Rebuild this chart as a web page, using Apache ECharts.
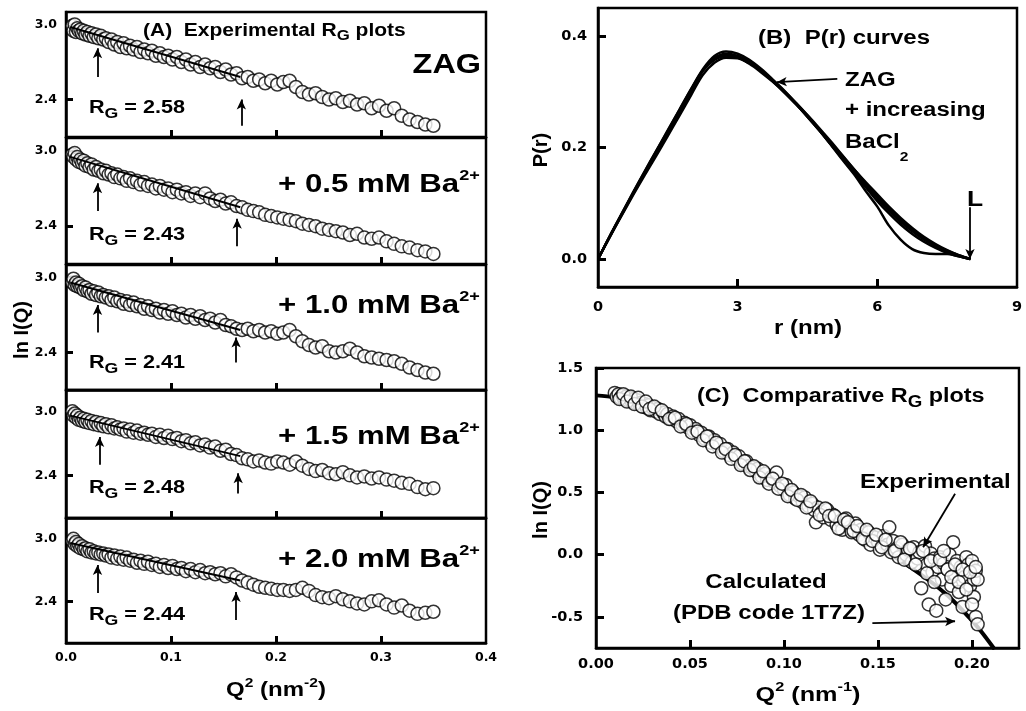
<!DOCTYPE html>
<html>
<head>
<meta charset="utf-8">
<script src="https://cdn.jsdelivr.net/npm/echarts@6.0.0/dist/echarts.min.js"></script>
<style>
  html, body { margin: 0; padding: 0; background: #fff; }
  #chart { width: 1026px; height: 711px; }
</style>
</head>
<body>
<div id="chart"></div>
<script>
// ---- (A) Guinier plots: Q^2 grid shared by the five samples ----
var q2Grid = [
  0.0061, 0.0071, 0.0083, 0.0095, 0.0108, 0.0122, 0.0137, 0.0153, 0.0169, 0.0186,
  0.0204, 0.0224, 0.0243, 0.0264, 0.0286, 0.0308, 0.0331, 0.0355, 0.0380, 0.0406,
  0.0433, 0.0460, 0.0488, 0.0518, 0.0548, 0.0578, 0.0610, 0.0643, 0.0676, 0.0710,
  0.0745, 0.0781, 0.0818, 0.0856, 0.0894, 0.0933, 0.0973, 0.1014, 0.1056, 0.1099,
  0.1142, 0.1187, 0.1232, 0.1278, 0.1325, 0.1373, 0.1421, 0.1471, 0.1521, 0.1572,
  0.1624, 0.1677, 0.1731, 0.1785, 0.1840, 0.1897, 0.1954, 0.2012, 0.2070, 0.2130,
  0.2190, 0.2251, 0.2314, 0.2377, 0.2440, 0.2505, 0.2570, 0.2637, 0.2704, 0.2772,
  0.2841, 0.2911, 0.2981, 0.3053, 0.3125, 0.3198, 0.3272, 0.3347, 0.3422, 0.3499
];
var lnIZag = [
  2.99, 2.95, 3.00, 2.94, 2.97, 2.95, 2.96, 2.93, 2.95, 2.92,
  2.94, 2.91, 2.93, 2.90, 2.92, 2.89, 2.91, 2.88, 2.89, 2.86,
  2.88, 2.84, 2.86, 2.82, 2.85, 2.81, 2.83, 2.80, 2.82, 2.78,
  2.80, 2.77, 2.79, 2.75, 2.77, 2.74, 2.75, 2.72, 2.74, 2.70,
  2.72, 2.68, 2.70, 2.66, 2.68, 2.65, 2.66, 2.62, 2.64, 2.60,
  2.61, 2.57, 2.58, 2.55, 2.56, 2.53, 2.55, 2.52, 2.54, 2.55,
  2.50, 2.46, 2.44, 2.45, 2.42, 2.40, 2.41, 2.38, 2.39, 2.36,
  2.37, 2.33, 2.35, 2.31, 2.33, 2.27, 2.24, 2.22, 2.20, 2.19
];
var lnIBa05 = [
  2.97, 2.95, 2.98, 2.93, 2.95, 2.91, 2.93, 2.90, 2.92, 2.88,
  2.90, 2.87, 2.89, 2.85, 2.87, 2.84, 2.85, 2.82, 2.84, 2.81,
  2.82, 2.79, 2.81, 2.78, 2.79, 2.76, 2.78, 2.75, 2.76, 2.73,
  2.75, 2.72, 2.73, 2.70, 2.72, 2.69, 2.70, 2.67, 2.69, 2.66,
  2.67, 2.64, 2.66, 2.63, 2.66, 2.62, 2.60, 2.61, 2.58, 2.59,
  2.56, 2.55, 2.53, 2.52, 2.51, 2.49, 2.48, 2.47, 2.46, 2.45,
  2.44, 2.42, 2.41, 2.40, 2.38, 2.37, 2.36, 2.35, 2.33, 2.34,
  2.31, 2.30, 2.31, 2.28, 2.26, 2.24, 2.23, 2.21, 2.20, 2.18
];
var lnIBa10 = [
  2.96, 2.99, 2.94, 2.96, 2.93, 2.95, 2.92, 2.93, 2.90, 2.92,
  2.89, 2.90, 2.87, 2.89, 2.86, 2.88, 2.85, 2.86, 2.84, 2.85,
  2.82, 2.84, 2.81, 2.82, 2.79, 2.81, 2.78, 2.80, 2.77, 2.78,
  2.75, 2.77, 2.74, 2.75, 2.72, 2.74, 2.71, 2.73, 2.70, 2.71,
  2.68, 2.70, 2.67, 2.69, 2.66, 2.67, 2.64, 2.66, 2.62, 2.61,
  2.59, 2.58, 2.59, 2.57, 2.58, 2.56, 2.57, 2.55, 2.56, 2.58,
  2.53, 2.49, 2.46, 2.44, 2.45, 2.41, 2.40, 2.41, 2.43, 2.40,
  2.37, 2.36, 2.35, 2.34, 2.33, 2.31, 2.28, 2.26, 2.24, 2.23
];
var lnIBa15 = [
  3.00, 2.96, 2.98, 2.94, 2.96, 2.92, 2.94, 2.91, 2.93, 2.90,
  2.92, 2.89, 2.91, 2.88, 2.90, 2.87, 2.89, 2.86, 2.88, 2.85,
  2.87, 2.84, 2.85, 2.83, 2.84, 2.81, 2.83, 2.80, 2.82, 2.79,
  2.80, 2.78, 2.79, 2.76, 2.78, 2.75, 2.77, 2.74, 2.75, 2.72,
  2.73, 2.70, 2.71, 2.68, 2.69, 2.66, 2.67, 2.63, 2.64, 2.60,
  2.59, 2.56, 2.55, 2.53, 2.54, 2.52, 2.51, 2.53, 2.52, 2.50,
  2.53, 2.49, 2.46, 2.44, 2.45, 2.42, 2.41, 2.43, 2.40, 2.38,
  2.39, 2.37, 2.38, 2.36, 2.35, 2.33, 2.32, 2.29, 2.27, 2.28
];
var lnIBa20 = [
  2.98, 3.00, 2.95, 2.97, 2.93, 2.95, 2.91, 2.93, 2.90, 2.91,
  2.88, 2.90, 2.87, 2.88, 2.86, 2.87, 2.85, 2.86, 2.84, 2.85,
  2.82, 2.84, 2.81, 2.83, 2.80, 2.82, 2.79, 2.80, 2.77, 2.79,
  2.76, 2.78, 2.75, 2.76, 2.73, 2.75, 2.72, 2.74, 2.71, 2.72,
  2.69, 2.71, 2.68, 2.70, 2.67, 2.68, 2.66, 2.67, 2.64, 2.66,
  2.63, 2.60, 2.58, 2.56, 2.54, 2.53, 2.52, 2.51, 2.51, 2.50,
  2.51, 2.53, 2.50, 2.46, 2.44, 2.43, 2.45, 2.42, 2.40, 2.38,
  2.37, 2.40, 2.41, 2.37, 2.34, 2.36, 2.31, 2.28, 2.29, 2.30
];
var panelLnI = [lnIZag, lnIBa05, lnIBa10, lnIBa15, lnIBa20];
var sampleNames = ['ZAG', '+ 0.5 mM Ba', '+ 1.0 mM Ba', '+ 1.5 mM Ba', '+ 2.0 mM Ba'];
var rgValues = ['2.58', '2.43', '2.41', '2.48', '2.44'];
// Guinier fit lines [start, end]
var fitLines = [
  [[0.004, 2.98], [0.166, 2.58]],
  [[0.004, 2.95], [0.166, 2.55]],
  [[0.004, 2.96], [0.166, 2.58]],
  [[0.004, 2.96], [0.166, 2.58]],
  [[0.004, 2.96], [0.166, 2.60]]
];
// fit-range arrows: Q^2 position, tail and tip lnI
var arrowLowQ = [0.030, 0.030, 0.030, 0.032, 0.030];
var arrowLowTail = [2.58, 2.52, 2.56, 2.50, 2.48];
var arrowLowTip = [2.81, 2.74, 2.78, 2.76, 2.75];
var arrowHighQ = [0.167, 0.163, 0.162, 0.164, 0.162];
var arrowHighTail = [2.19, 2.24, 2.32, 2.23, 2.22];
var arrowHighTip = [2.40, 2.46, 2.52, 2.42, 2.49];
var panelYMin = [2.1, 2.1, 2.1, 2.0, 2.0];
var panelYMax = [3.1, 3.1, 3.1, 3.2, 3.2];
var panelYTicks = [2.4, 3.0];
var panelXTicks = [0, 0.1, 0.2, 0.3, 0.4];

// ---- (B) P(r) curves ----
var rNm = [0, 0.25, 0.5, 0.75, 1.0, 1.25, 1.5, 1.75, 2.0, 2.25, 2.5, 2.75, 3.0, 3.25, 3.5, 3.75,
  4.0, 4.25, 4.5, 4.75, 5.0, 5.25, 5.5, 5.75, 6.0, 6.25, 6.5, 6.75, 7.0, 7.25, 7.5, 7.75, 8.0];
var prZag = [0, 0.040, 0.078, 0.116, 0.153, 0.189, 0.225, 0.262, 0.300, 0.338, 0.360, 0.368, 0.364, 0.353, 0.338, 0.320,
  0.300, 0.278, 0.255, 0.231, 0.206, 0.181, 0.157, 0.132, 0.109, 0.087, 0.067, 0.050, 0.035, 0.023, 0.013, 0.006, 0];
var prBa05 = [0, 0.041, 0.080, 0.119, 0.157, 0.194, 0.231, 0.268, 0.305, 0.340, 0.364, 0.372, 0.368, 0.357, 0.341, 0.322,
  0.302, 0.280, 0.257, 0.232, 0.206, 0.180, 0.154, 0.129, 0.104, 0.082, 0.062, 0.045, 0.031, 0.020, 0.011, 0.005, 0];
var prBa10 = [0, 0.039, 0.077, 0.114, 0.150, 0.185, 0.221, 0.257, 0.294, 0.330, 0.352, 0.361, 0.360, 0.351, 0.337, 0.320,
  0.301, 0.280, 0.258, 0.235, 0.211, 0.186, 0.161, 0.136, 0.112, 0.090, 0.070, 0.053, 0.038, 0.025, 0.015, 0.007, 0];
var prBa15 = [0, 0.040, 0.079, 0.117, 0.154, 0.190, 0.227, 0.264, 0.302, 0.337, 0.357, 0.364, 0.361, 0.350, 0.335, 0.318,
  0.299, 0.278, 0.256, 0.233, 0.209, 0.185, 0.161, 0.138, 0.116, 0.094, 0.074, 0.056, 0.040, 0.027, 0.016, 0.007, 0];
var prBa20 = [0, 0.040, 0.079, 0.118, 0.156, 0.193, 0.230, 0.267, 0.304, 0.338, 0.360, 0.366, 0.362, 0.352, 0.337, 0.319,
  0.299, 0.278, 0.255, 0.231, 0.205, 0.178, 0.152, 0.122, 0.094, 0.060, 0.035, 0.018, 0.011, 0.009, 0.009, 0.005, 0];
var prCurves = [prZag, prBa05, prBa10, prBa15, prBa20];

// ---- (C) comparative plot ----
var calcQ = [0, 0.010, 0.020, 0.030, 0.040, 0.050, 0.060, 0.070, 0.080, 0.090, 0.100, 0.110,
  0.120, 0.130, 0.140, 0.150, 0.160, 0.170, 0.180, 0.190, 0.200, 0.205, 0.212];
var calcLnI = [1.280, 1.265, 1.230, 1.175, 1.100, 1.010, 0.915, 0.815, 0.715, 0.620, 0.525, 0.430,
  0.340, 0.250, 0.160, 0.065, -0.030, -0.130, -0.240, -0.370, -0.530, -0.620, -0.760];
var expQ = [
  0.010, 0.011, 0.012, 0.013, 0.014, 0.015, 0.016, 0.017, 0.018, 0.019,
  0.020, 0.021, 0.022, 0.023, 0.024, 0.025, 0.026, 0.027, 0.028, 0.029,
  0.030, 0.032, 0.033, 0.034, 0.036, 0.037, 0.038, 0.040, 0.041, 0.043,
  0.044, 0.046, 0.047, 0.049, 0.050, 0.052, 0.053, 0.055, 0.056, 0.058,
  0.060, 0.061, 0.063, 0.065, 0.066, 0.068, 0.070, 0.071, 0.073, 0.075,
  0.076, 0.078, 0.080, 0.081, 0.083, 0.085, 0.086, 0.088, 0.090, 0.091,
  0.093, 0.095, 0.096, 0.098, 0.100, 0.101, 0.103, 0.105, 0.106, 0.108,
  0.110, 0.111, 0.113, 0.115, 0.116, 0.117, 0.118, 0.120, 0.121, 0.123,
  0.125, 0.126, 0.128, 0.130, 0.131, 0.133, 0.135, 0.136, 0.138, 0.140,
  0.141, 0.143, 0.145, 0.146, 0.148, 0.150, 0.151, 0.153, 0.155, 0.156,
  0.157, 0.158, 0.160, 0.161, 0.163, 0.165, 0.166, 0.168, 0.169, 0.171,
  0.172, 0.173, 0.175, 0.176, 0.177, 0.178, 0.179, 0.180, 0.181, 0.182,
  0.183, 0.184, 0.185, 0.186, 0.187, 0.188, 0.189, 0.190, 0.191, 0.192,
  0.193, 0.194, 0.195, 0.196, 0.197, 0.198, 0.199, 0.200, 0.201, 0.201,
  0.202, 0.202, 0.203, 0.203
];
var expLnI = [
  1.30, 1.27, 1.29, 1.26, 1.28, 1.25, 1.27, 1.24, 1.26, 1.23,
  1.25, 1.22, 1.24, 1.21, 1.22, 1.19, 1.21, 1.18, 1.20, 1.16,
  1.18, 1.15, 1.17, 1.13, 1.14, 1.11, 1.13, 1.09, 1.11, 1.07,
  1.09, 1.04, 1.06, 1.02, 1.04, 0.99, 1.01, 0.96, 0.98, 0.93,
  0.95, 0.90, 0.92, 0.87, 0.89, 0.83, 0.85, 0.80, 0.82, 0.77,
  0.79, 0.73, 0.75, 0.71, 0.70, 0.67, 0.69, 0.63, 0.65, 0.60,
  0.62, 0.58, 0.66, 0.55, 0.52, 0.56, 0.48, 0.50, 0.45, 0.47,
  0.42, 0.46, 0.39, 0.41, 0.36, 0.26, 0.38, 0.34, 0.30, 0.36,
  0.28, 0.32, 0.24, 0.27, 0.20, 0.29, 0.22, 0.18, 0.25, 0.16,
  0.20, 0.12, 0.18, 0.08, 0.14, 0.10, 0.04, 0.15, 0.08, 0.22,
  0.02, 0.11, 0.05, -0.02, 0.08, 0.00, 0.04, -0.06, 0.06, -0.03,
  0.02, -0.27, 0.07, -0.08, -0.40, 0.01, -0.14, -0.03, -0.45, -0.10,
  -0.02, -0.20, -0.07, -0.36, -0.12, 0.00, -0.25, 0.10, -0.16, -0.05,
  -0.30, -0.10, -0.42, -0.18, -0.02, -0.08, -0.25, -0.05, -0.34, -0.20,
  -0.50, -0.13, -0.56, -0.20
];
// second overlaid experimental set
var expQ2 = [
  0.0125, 0.0145, 0.0165, 0.0185, 0.0205, 0.0225, 0.0245, 0.0265, 0.0285, 0.031,
  0.035, 0.039, 0.042, 0.045, 0.048, 0.051, 0.054, 0.057, 0.059, 0.062,
  0.064, 0.067, 0.069, 0.072, 0.074, 0.077, 0.079, 0.082, 0.084, 0.087,
  0.089, 0.092, 0.094, 0.097, 0.099, 0.102, 0.104, 0.107, 0.109, 0.112,
  0.114, 0.119, 0.122, 0.124, 0.127, 0.129, 0.132, 0.134, 0.137, 0.139,
  0.142, 0.144, 0.147, 0.149, 0.152, 0.154, 0.159, 0.162, 0.164, 0.167,
  0.170, 0.174, 0.176, 0.178, 0.180, 0.183, 0.185, 0.187, 0.189, 0.191,
  0.193, 0.195, 0.197, 0.199, 0.200, 0.202
];
var expLnI2 = [
  1.25, 1.29, 1.23, 1.27, 1.21, 1.26, 1.19, 1.23, 1.17, 1.19,
  1.16, 1.09, 1.10, 1.03, 1.05, 0.98, 0.99, 0.92, 0.95, 0.87,
  0.90, 0.82, 0.85, 0.77, 0.80, 0.72, 0.75, 0.68, 0.71, 0.62,
  0.67, 0.57, 0.61, 0.53, 0.57, 0.47, 0.52, 0.44, 0.48, 0.38,
  0.43, 0.32, 0.37, 0.31, 0.31, 0.21, 0.28, 0.26, 0.19, 0.23,
  0.13, 0.20, 0.11, 0.16, 0.06, 0.12, 0.03, 0.10, -0.04, 0.05,
  -0.08, 0.03, -0.15, -0.05, -0.22, -0.04, 0.03, -0.12, -0.18, -0.08,
  -0.22, -0.12, -0.28, -0.14, -0.40, -0.10
];

// ---- text helpers ----
var FONT = '"Liberation Sans", Arial, Helvetica, sans-serif';
var TICK_FONT = '"DejaVu Sans", sans-serif';
var SX = 1.2; // the figure is stretched horizontally
var measure = document.createElement('canvas').getContext('2d');

// parts: [text, relative size, vertical shift in em]
function textRun(x, y, parts, size, align) {
  var widths = [], total = 0, els = [];
  parts.forEach(function (p) {
    measure.font = 'bold ' + (size * (p[1] || 1)) + 'px ' + FONT;
    var w = measure.measureText(p[0]).width * SX;
    widths.push(w);
    total += w;
  });
  var cx = align === 'center' ? x - total / 2 : (align === 'right' ? x - total : x);
  parts.forEach(function (p, i) {
    els.push({
      type: 'text', x: cx, y: y + (p[2] || 0) * size, scaleX: SX, silent: true, z: 100,
      style: {
        text: p[0], fill: '#000', fontSize: size * (p[1] || 1), fontWeight: 'bold', fontFamily: FONT,
        textAlign: 'left', align: 'left', textVerticalAlign: 'middle', verticalAlign: 'middle'
      }
    });
    cx += widths[i];
  });
  return els;
}
function vText(x, y, str, size) {
  return {
    type: 'text', x: x, y: y, rotation: Math.PI / 2, silent: true, z: 100,
    style: {
      text: str, fill: '#000', fontSize: size, fontWeight: 'bold', fontFamily: FONT,
      textAlign: 'center', align: 'center', textVerticalAlign: 'middle', verticalAlign: 'middle'
    }
  };
}
function arrowMark(pairs) {
  return {
    silent: true, symbol: ['none', 'arrow'], symbolSize: [7, 10], animation: false,
    label: { show: false }, emphasis: { disabled: true },
    lineStyle: { color: '#000', width: 1.8, type: 'solid' },
    data: pairs.map(function (p) { return [{ coord: p[0] }, { coord: p[1] }]; })
  };
}
// axis helper: inward ticks at tickVals, labels at labelVals
function makeAxis(grid, min, max, tickVals, labelVals, opts) {
  return {
    type: 'value', gridIndex: grid, min: min, max: max, splitLine: { show: false },
    axisLine: { show: true, onZero: false, lineStyle: { color: '#000', width: 2.5 } },
    axisTick: { show: true, inside: true, length: opts.tick, customValues: tickVals,
      lineStyle: { color: '#000', width: 3 } },
    axisLabel: { show: opts.labels !== false, customValues: labelVals, margin: opts.margin,
      color: '#000', fontFamily: TICK_FONT, fontWeight: 'bold', fontSize: opts.size,
      formatter: function (v) { return v.toFixed(opts.digits); } }
  };
}

// ---- layout ----
var panelTop = [12, 138, 265, 390, 518];
var panelH = [125, 126, 125, 128, 125];
var grids = [], xAxes = [], yAxes = [], series = [], graphics = [];
var circleStyle = { color: '#fff', borderColor: '#000', borderWidth: 1.5 };

for (var i = 0; i < 5; i++) {
  grids.push({ left: 66, right: 540, top: panelTop[i], height: panelH[i],
    show: true, borderColor: '#000', borderWidth: 2.5 });
  xAxes.push(makeAxis(i, 0, 0.4, [0.1, 0.2, 0.3], panelXTicks,
    { tick: 7, margin: 8, size: 12.5, digits: 1, labels: i === 4 }));
  yAxes.push(makeAxis(i, panelYMin[i], panelYMax[i], panelYTicks, panelYTicks,
    { tick: 7, margin: 9, size: 12.5, digits: 1 }));
  var lnI = panelLnI[i];
  series.push({
    type: 'scatter', xAxisIndex: i, yAxisIndex: i, z: 2,
    symbol: 'circle', symbolSize: 13, itemStyle: circleStyle,
    data: q2Grid.map(function (q, k) { return [q, lnI[k]]; })
  });
  series.push({
    type: 'line', xAxisIndex: i, yAxisIndex: i, z: 3, showSymbol: false, symbol: 'none',
    lineStyle: { color: '#000', width: 2 }, data: fitLines[i],
    markLine: arrowMark([
      [[arrowLowQ[i], arrowLowTail[i]], [arrowLowQ[i], arrowLowTip[i]]],
      [[arrowHighQ[i], arrowHighTail[i]], [arrowHighQ[i], arrowHighTip[i]]]
    ])
  });
}

// (B)
grids.push({ left: 598, right: 9, top: 8, height: 279, show: true, borderColor: '#000', borderWidth: 2.5 });
xAxes.push(makeAxis(5, 0, 9, [3, 6], [0, 3, 6, 9], { tick: 8, margin: 13, size: 14.5, digits: 0 }));
yAxes.push(makeAxis(5, -0.05, 0.45, [0, 0.2, 0.4], [0, 0.2, 0.4], { tick: 8, margin: 11, size: 14.5, digits: 1 }));
prCurves.forEach(function (pr, k) {
  series.push({
    type: 'line', xAxisIndex: 5, yAxisIndex: 5, z: 3, showSymbol: false, symbol: 'none', smooth: 0.35,
    lineStyle: { color: '#000', width: 2.5 },
    data: rNm.map(function (r, j) { return [r, pr[j]]; }),
    markLine: k === 0 ? arrowMark([
      [[5.14, 0.323], [3.84, 0.317]],
      [[7.99, 0.093], [7.99, 0.0]]
    ]) : undefined
  });
});

// (C)
grids.push({ left: 596, right: 7, top: 368, height: 280, show: true, borderColor: '#000', borderWidth: 2.5 });
xAxes.push(makeAxis(6, 0, 0.225, [0.05, 0.1, 0.15, 0.2], [0, 0.05, 0.1, 0.15, 0.2],
  { tick: 8, margin: 9, size: 14.5, digits: 2 }));
yAxes.push(makeAxis(6, -0.75, 1.5, [-0.5, 0, 0.5, 1.0, 1.5], [-0.5, 0, 0.5, 1.0, 1.5],
  { tick: 8, margin: 13, size: 14.5, digits: 1 }));
series.push({
  type: 'line', xAxisIndex: 6, yAxisIndex: 6, z: 2, showSymbol: false, symbol: 'none', smooth: 0.3,
  lineStyle: { color: '#000', width: 4 },
  data: calcQ.map(function (q, k) { return [q, calcLnI[k]]; }),
  markLine: arrowMark([
    [[0.191, 0.49], [0.174, 0.06]],
    [[0.147, -0.55], [0.191, -0.535]]
  ])
});
series.push({
  type: 'scatter', xAxisIndex: 6, yAxisIndex: 6, z: 3,
  symbol: 'circle', symbolSize: 13, itemStyle: circleStyle,
  data: expQ.map(function (q, k) { return [q, expLnI[k]]; })
});
series.push({
  type: 'scatter', xAxisIndex: 6, yAxisIndex: 6, z: 3,
  symbol: 'circle', symbolSize: 13, itemStyle: circleStyle,
  data: expQ2.map(function (q, k) { return [q, expLnI2[k]]; })
});

// ---- annotations ----
graphics = graphics.concat(
  textRun(143, 31, [['(A)  Experimental R'], ['G', 0.8, 0.3], [' plots']], 17.5, 'left'),
  textRun(481, 66, [['ZAG']], 27, 'right')
);
var nameCenters = [66, 185, 306, 437, 560];
var rgCenters = [108, 235, 363, 488, 615];
for (var j = 0; j < 5; j++) {
  if (j > 0) {
    graphics = graphics.concat(textRun(278, nameCenters[j], [[sampleNames[j]], ['2+', 0.58, -0.36]], 26, 'left'));
  }
  graphics = graphics.concat(textRun(89, rgCenters[j], [['R'], ['G', 0.82, 0.32], [' = ' + rgValues[j]]], 18, 'left'));
}
graphics = graphics.concat(
  textRun(276, 690, [['Q'], ['2', 0.65, -0.35], [' (nm'], ['-2', 0.65, -0.35], [')']], 20, 'center'),
  textRun(758, 38, [['(B)  P(r) curves']], 20, 'left'),
  textRun(845, 80, [['ZAG']], 20, 'left'),
  textRun(845, 110, [['+ increasing']], 20, 'left'),
  textRun(845, 142, [['BaCl'], ['2', 0.65, 0.75]], 20, 'left'),
  textRun(975, 200, [['L']], 22, 'center'),
  textRun(808, 328, [['r (nm)']], 20, 'center'),
  textRun(697, 397, [['(C)  Comparative R'], ['G', 0.8, 0.3], [' plots']], 19.5, 'left'),
  textRun(860, 482, [['Experimental']], 20, 'left'),
  textRun(766, 582, [['Calculated']], 20, 'center'),
  textRun(769, 613, [['(PDB code 1T7Z)']], 20, 'center'),
  textRun(808, 695, [['Q'], ['2', 0.65, -0.35], [' (nm'], ['-1', 0.65, -0.35], [')']], 21, 'center')
);
graphics.push(vText(22, 330, 'ln I(Q)', 20));
graphics.push(vText(541, 150, 'P(r)', 20));
graphics.push(vText(541, 510, 'ln I(Q)', 20));

var myChart = echarts.init(document.getElementById('chart'), null, { renderer: 'canvas' });
myChart.setOption({
  animation: false,
  backgroundColor: '#fff',
  grid: grids,
  xAxis: xAxes,
  yAxis: yAxes,
  series: series,
  graphic: { elements: graphics }
});
window.onresize = myChart.resize;
</script>
</body>
</html>
